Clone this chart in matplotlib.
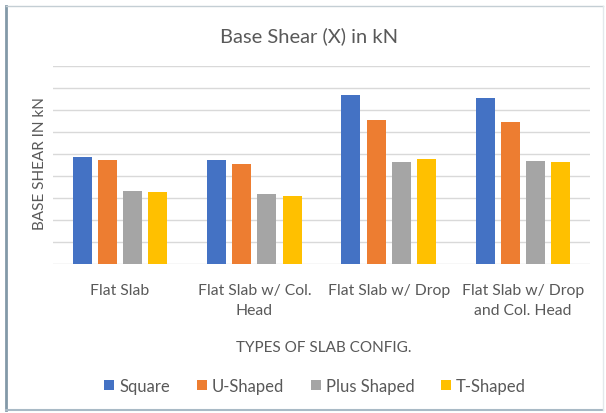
import matplotlib
matplotlib.use("Agg")
import matplotlib.pyplot as plt
import numpy as np
from matplotlib.lines import Line2D
from matplotlib.patches import Patch

categories = ["Flat Slab", "Flat Slab w/ Col.\nHead", "Flat Slab w/ Drop", "Flat Slab w/ Drop\nand Col. Head"]
series_names = ["Square", "U-Shaped", "Plus Shaped", "T-Shaped"]
square = [4880, 4740, 7700, 7530]
u_shaped = [4740, 4530, 6560, 6470]
plus_shaped = [3320, 3170, 4640, 4700]
t_shaped = [3260, 3100, 4760, 4620]
colors = ["#4472C4", "#ED7D31", "#A5A5A5", "#FFC000"]

plt.rcParams['font.family'] = ['Lato', 'DejaVu Sans']
text_col = "#595959"

W, H = 606, 414
fig = plt.figure(figsize=(W / 100, H / 100), dpi=100)
fig.patch.set_facecolor("white")

ax = fig.add_axes([53 / W, 1 - 265 / H, (590 - 53) / W, (265 - 67) / H])
x = np.arange(len(categories))
pitch = 0.187
bw = 0.142
all_series = [square, u_shaped, plus_shaped, t_shaped]
for i, (vals, c) in enumerate(zip(all_series, colors)):
    ax.bar(x + (i - 1.5) * pitch, vals, width=bw, color=c, zorder=3)

ax.set_xlim(-0.5, len(categories) - 0.5)
ax.set_ylim(0, 9000)
ax.set_yticks(np.arange(0, 9001, 1000))
ax.yaxis.grid(True, color="#D9D9D9", linewidth=1, zorder=0)
ax.tick_params(axis='y', left=False, labelleft=False)
ax.tick_params(axis='x', bottom=False, labelsize=11.3, labelcolor=text_col, pad=10)
ax.set_xticks(x)
ax.set_xticklabels(categories, linespacing=1.6, va='top')
for s in ["top", "right", "left", "bottom"]:
    ax.spines[s].set_visible(False)

fig.text(309 / W, 1 - 36 / H, "Base Shear (X) in kN", ha='center', va='center', fontsize=14.5, color=text_col)
fig.text(40 / W, 1 - 164 / H, "BASE SHEAR IN kN", ha='center', va='center', rotation=90, fontsize=11, color=text_col)
fig.text(324 / W, 1 - 348 / H, "TYPES OF SLAB CONFIG.", ha='center', va='center', fontsize=11, color=text_col)

handles = [Patch(facecolor=c, edgecolor='none') for c in colors]
fig.legend(handles, series_names, loc='center', bbox_to_anchor=(315 / W, 1 - 387 / H), ncol=4, frameon=False,
           fontsize=12, handlelength=0.6, handleheight=0.6, handletextpad=0.3, columnspacing=1.6, labelcolor=text_col)

# chart border
fig.add_artist(Line2D([6 / W, 6 / W], [1 - 7 / H, 1 - 411 / H], transform=fig.transFigure, color="#8399a8", linewidth=2))
fig.add_artist(Line2D([6 / W, 603 / W], [1 - 7 / H, 1 - 7 / H], transform=fig.transFigure, color="#c4ced4", linewidth=1))
fig.add_artist(Line2D([6 / W, 603 / W], [1 - 411 / H, 1 - 411 / H], transform=fig.transFigure, color="#a9bac6", linewidth=1.5))
fig.add_artist(Line2D([603 / W, 603 / W], [1 - 7 / H, 1 - 411 / H], transform=fig.transFigure, color="#e3e8eb", linewidth=1))

fig.savefig("out.png", dpi=100, facecolor="white")
